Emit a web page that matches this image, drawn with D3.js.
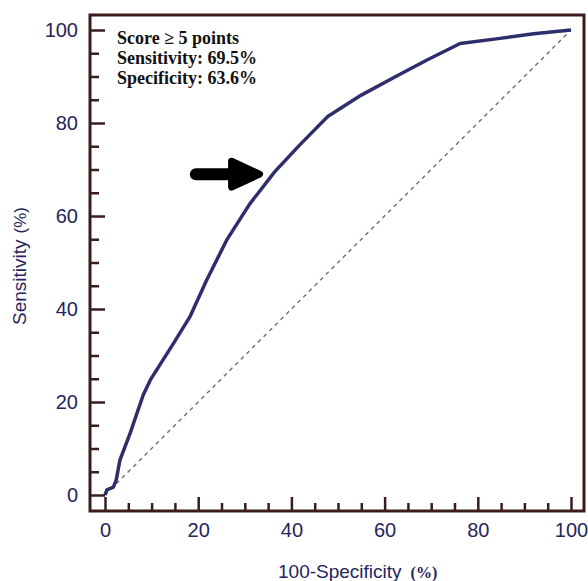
<!DOCTYPE html>
<html>
<head>
<meta charset="utf-8">
<script src="https://cdn.jsdelivr.net/npm/d3@7"></script>
<style>
  body { margin: 0; background: #fff; }
  svg { display: block; }
</style>
</head>
<body>
<div id="roc"></div>
<script>
// ROC curve values (percent)
const fpr = [0, 0.4, 1.8, 2.4, 3.2, 5.4, 8.2, 9.7, 14.7, 18.2, 21.8, 26.1, 31, 36.4, 41.8, 47.8, 55, 62.6, 69, 76.2, 84.8, 92, 100];
const tpr = [0, 1.1, 1.7, 3.2, 7.5, 13.3, 21.5, 24.7, 32.6, 38.3, 46.2, 54.8, 62.5, 69.5, 75.3, 81.4, 86, 90.1, 93.5, 97.1, 98.2, 99.2, 100];
const majorTicks = [0, 20, 40, 60, 80, 100];
const minorTicks = [5, 10, 15, 25, 30, 35, 45, 50, 55, 65, 70, 75, 85, 90, 95];
const noteLines = ["Score \u2265 5 points", "Sensitivity: 69.5%", "Specificity: 63.6%"];
const arrowFrom = [19.5, 69];
const arrowTo = [33.6, 69];

const width = 588;
const height = 581;
const frame = { left: 90, right: 584, top: 15, bottom: 511 };

const frameColor = "#3b1c1c";
const textColor = "#25255c";
const curveColor = "#2e2e6c";

const svg = d3.select("#roc")
    .append("svg")
    .attr("width", width)
    .attr("height", height);

// scales set so 0 and 100 sit inside the frame
const x = d3.scaleLinear().domain([0, 100]).range([105, 571]);
const y = d3.scaleLinear().domain([0, 100]).range([495, 30]);

// chance diagonal
svg.append("line")
    .attr("x1", x(0)).attr("y1", y(0))
    .attr("x2", x(100)).attr("y2", y(100))
    .attr("stroke", "#6f6f6f")
    .attr("stroke-width", 1.4)
    .attr("stroke-dasharray", "4,4");

// ROC curve
const line = d3.line()
    .x(d => x(d[0]))
    .y(d => y(d[1]));

svg.append("path")
    .datum(fpr.map((v, i) => [v, tpr[i]]))
    .attr("d", line)
    .attr("fill", "none")
    .attr("stroke", curveColor)
    .attr("stroke-width", 3.5)
    .attr("stroke-linejoin", "round");

// axes with inward ticks
function styleAxis(g) {
    g.select(".domain").remove();
    g.selectAll(".tick line")
        .attr("stroke", frameColor)
        .attr("stroke-width", 2.5);
    g.selectAll("text")
        .attr("fill", textColor)
        .style("font-family", "Liberation Sans, Arial, sans-serif")
        .style("font-size", "20px");
}

svg.append("g")
    .attr("transform", `translate(0, ${frame.bottom})`)
    .call(d3.axisBottom(x).tickValues(majorTicks).tickSize(-14).tickPadding(12))
    .call(styleAxis);

svg.append("g")
    .attr("transform", `translate(0, ${frame.bottom})`)
    .call(d3.axisBottom(x).tickValues(minorTicks).tickSize(-8).tickFormat(""))
    .call(styleAxis);

svg.append("g")
    .attr("transform", `translate(${frame.left}, 0)`)
    .call(d3.axisLeft(y).tickValues(majorTicks).tickSize(-15).tickPadding(12))
    .call(styleAxis);

svg.append("g")
    .attr("transform", `translate(${frame.left}, 0)`)
    .call(d3.axisLeft(y).tickValues(minorTicks).tickSize(-9).tickFormat(""))
    .call(styleAxis);

// frame
svg.append("rect")
    .attr("x", frame.left)
    .attr("y", frame.top)
    .attr("width", frame.right - frame.left)
    .attr("height", frame.bottom - frame.top)
    .attr("fill", "none")
    .attr("stroke", frameColor)
    .attr("stroke-width", 3);

// axis titles
const xTitle = svg.append("text")
    .attr("x", 278)
    .attr("y", 578)
    .attr("fill", textColor)
    .style("font-family", "Liberation Sans, Arial, sans-serif")
    .style("font-size", "19px");
xTitle.append("tspan").text("100-Specificity");
xTitle.append("tspan")
    .attr("dx", 9)
    .style("font-family", "Liberation Serif, Times New Roman, serif")
    .style("font-weight", "bold")
    .style("font-size", "16px")
    .text("(%)");

const yTitle = svg.append("text")
    .attr("transform", "translate(26, 266) rotate(-90)")
    .attr("text-anchor", "middle")
    .attr("fill", textColor)
    .style("font-family", "Liberation Sans, Arial, sans-serif")
    .style("font-size", "19px");
yTitle.append("tspan").text("Sensitivity");
yTitle.append("tspan")
    .attr("dx", 6)
    .style("font-size", "17px")
    .text("(%)");

// annotation text
svg.append("g")
    .selectAll("text")
    .data(noteLines)
    .enter().append("text")
    .attr("x", 117)
    .attr("y", (d, i) => 44 + i * 20)
    .attr("fill", "#111")
    .style("font-family", "Liberation Serif, Times New Roman, serif")
    .style("font-weight", "bold")
    .style("font-size", "18px")
    .text(d => d);

// arrow pointing at the cut-off
const ax0 = x(arrowFrom[0]), ax1 = x(arrowTo[0]), ay = y(arrowTo[1]);
svg.append("line")
    .attr("x1", ax0).attr("y1", ay)
    .attr("x2", ax1 - 20).attr("y2", ay)
    .attr("stroke", "#000")
    .attr("stroke-width", 12)
    .attr("stroke-linecap", "round");

svg.append("path")
    .attr("d", `M${ax1 - 30},${ay - 13} L${ax1 - 2},${ay} L${ax1 - 30},${ay + 13} Z`)
    .attr("fill", "#000")
    .attr("stroke", "#000")
    .attr("stroke-width", 7)
    .attr("stroke-linejoin", "round");
</script>
</body>
</html>
